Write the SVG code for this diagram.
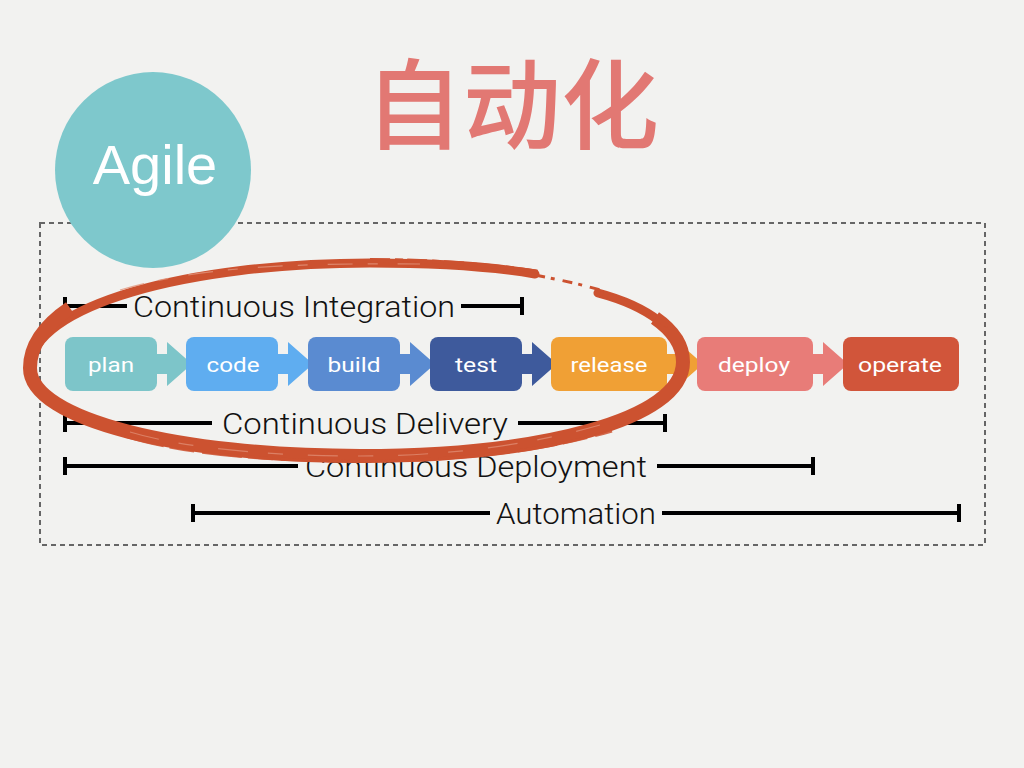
<svg xmlns="http://www.w3.org/2000/svg" width="1024" height="768" viewBox="0 0 1024 768">
<style>
.lbl{font-family:Roboto,"Liberation Sans",Arial,sans-serif;font-weight:400;font-size:21px;fill:#fff;text-anchor:middle}
.br{font-family:Roboto,"Liberation Sans",Arial,sans-serif;font-weight:300;font-size:30px;fill:#111;text-anchor:middle}
.bl{stroke:#000;stroke-width:4;fill:none}
.tk{stroke:#000;stroke-width:4}
</style>
<rect width="1024" height="768" fill="#f2f2f0"/>
<text x="512" y="141" font-family="'Noto Sans CJK SC','Noto Sans CJK JP',sans-serif" font-weight="500" font-size="98" fill="#e27873" text-anchor="middle">自动化</text>
<rect x="40" y="223" width="945" height="322" fill="none" stroke="#666" stroke-width="2" stroke-dasharray="5 4"/>
<g id="brackets">
<g id="ci">
<line class="bl" x1="65" y1="306" x2="127" y2="306"/><line class="bl" x1="461" y1="306" x2="522" y2="306"/>
<line class="tk" x1="65" y1="297" x2="65" y2="315"/><line class="tk" x1="522" y1="297" x2="522" y2="315"/>
<text class="br" x="294" y="317" textLength="322" lengthAdjust="spacingAndGlyphs">Continuous Integration</text>
</g>
<g id="cdel">
<line class="bl" x1="65" y1="423" x2="212" y2="423"/><line class="bl" x1="518" y1="423" x2="665" y2="423"/>
<line class="tk" x1="65" y1="414" x2="65" y2="432"/><line class="tk" x1="665" y1="414" x2="665" y2="432"/>
<text class="br" x="365" y="434" textLength="286" lengthAdjust="spacingAndGlyphs">Continuous Delivery</text>
</g>
<g id="cdep">
<line class="bl" x1="65" y1="466" x2="298" y2="466"/><line class="bl" x1="657" y1="466" x2="813" y2="466"/>
<line class="tk" x1="65" y1="457" x2="65" y2="475"/><line class="tk" x1="813" y1="457" x2="813" y2="475"/>
<text class="br" x="476" y="477" textLength="342" lengthAdjust="spacingAndGlyphs">Continuous Deployment</text>
</g>
<g id="auto">
<line class="bl" x1="193" y1="513" x2="490" y2="513"/><line class="bl" x1="662" y1="513" x2="959" y2="513"/>
<line class="tk" x1="193" y1="504" x2="193" y2="522"/><line class="tk" x1="959" y1="504" x2="959" y2="522"/>
<text class="br" x="576" y="524" textLength="160" lengthAdjust="spacingAndGlyphs">Automation</text>
</g>
</g>
<g id="connectors">
<path d="M156 354H167V342L192 364L167 386V374H156Z" fill="#7dc5c9"/>
<path d="M277 354H288V342L313 364L288 386V374H277Z" fill="#5fadf0"/>
<path d="M399 354H410V342L435 364L410 386V374H399Z" fill="#5a8bd1"/>
<path d="M521 354H532V342L557 364L532 386V374H521Z" fill="#3e5a9c"/>
<path d="M666 354H678V342L703 364L678 386V374H666Z" fill="#f0a035"/>
<path d="M812 354H823V342L848 364L823 386V374H812Z" fill="#e87c78"/>
</g>
<g id="plan"><rect x="65" y="337" width="92" height="54" rx="8" fill="#7dc5c9"/><text class="lbl" x="111" y="372" textLength="46" lengthAdjust="spacingAndGlyphs">plan</text></g>
<g id="code"><rect x="186" y="337" width="92" height="54" rx="8" fill="#5fadf0"/><text class="lbl" x="233" y="372" textLength="53" lengthAdjust="spacingAndGlyphs">code</text></g>
<g id="build"><rect x="308" y="337" width="92" height="54" rx="8" fill="#5a8bd1"/><text class="lbl" x="354" y="372" textLength="53" lengthAdjust="spacingAndGlyphs">build</text></g>
<g id="test"><rect x="430" y="337" width="92" height="54" rx="8" fill="#3e5a9c"/><text class="lbl" x="476" y="372" textLength="42" lengthAdjust="spacingAndGlyphs">test</text></g>
<g id="release"><rect x="551" y="337" width="116" height="54" rx="8" fill="#f0a035"/><text class="lbl" x="609" y="372" textLength="77" lengthAdjust="spacingAndGlyphs">release</text></g>
<g id="deploy"><rect x="697" y="337" width="116" height="54" rx="8" fill="#e87c78"/><text class="lbl" x="754" y="372" textLength="72" lengthAdjust="spacingAndGlyphs">deploy</text></g>
<g id="operate"><rect x="843" y="337" width="116" height="54" rx="8" fill="#d1553a"/><text class="lbl" x="900" y="372" textLength="84" lengthAdjust="spacingAndGlyphs">operate</text></g>
<g id="agile"><circle cx="153" cy="170" r="98" fill="#7ec8cc"/><text x="155" y="184" font-family="'Liberation Sans',Arial,sans-serif" font-size="56" fill="#fff" text-anchor="middle">Agile</text></g>
<g id="ellipse" fill="none">
<path d="M598 293C647 306 683 331 683 362C683 420 540 456 360 456C180 456 30 420 30 368C30 305 190 263 370 263C440 263 500 268 535 274" stroke="#cc5230" stroke-width="9" stroke-linecap="round"/>
<path d="M655 318C675 332 683 348 683 362C683 420 540 456 360 456C180 456 30 420 30 368C30 345 45 325 70 308" stroke="#cc5230" stroke-width="14"/>
<path d="M370 260C440 260 500 266 540 272" stroke="#cc5230" stroke-width="4" stroke-dasharray="20 5 8 4"/>
<path d="M535 275C560 280 580 284 600 290" stroke="#cc5230" stroke-width="3" stroke-dasharray="10 6 4 8"/>
<path d="M600 294C625 300 650 312 668 326" stroke="#cc5230" stroke-width="5" stroke-dasharray="3 5 18 3"/>
<path d="M125 436C170 450 240 461 360 461C470 461 550 449 612 431" stroke="#cc5230" stroke-width="3" stroke-dasharray="40 6 25 8" opacity="0.85"/>
<path d="M130 432C180 447 260 456 360 456C460 456 540 442 600 425" stroke="#e2937a" stroke-width="1.2" stroke-dasharray="30 20 15 25" opacity="0.7"/>
<path d="M120 290C200 266 300 263 420 264" stroke="#e2937a" stroke-width="1.2" stroke-dasharray="25 15 10 20" opacity="0.8"/>
</g>
</svg>
